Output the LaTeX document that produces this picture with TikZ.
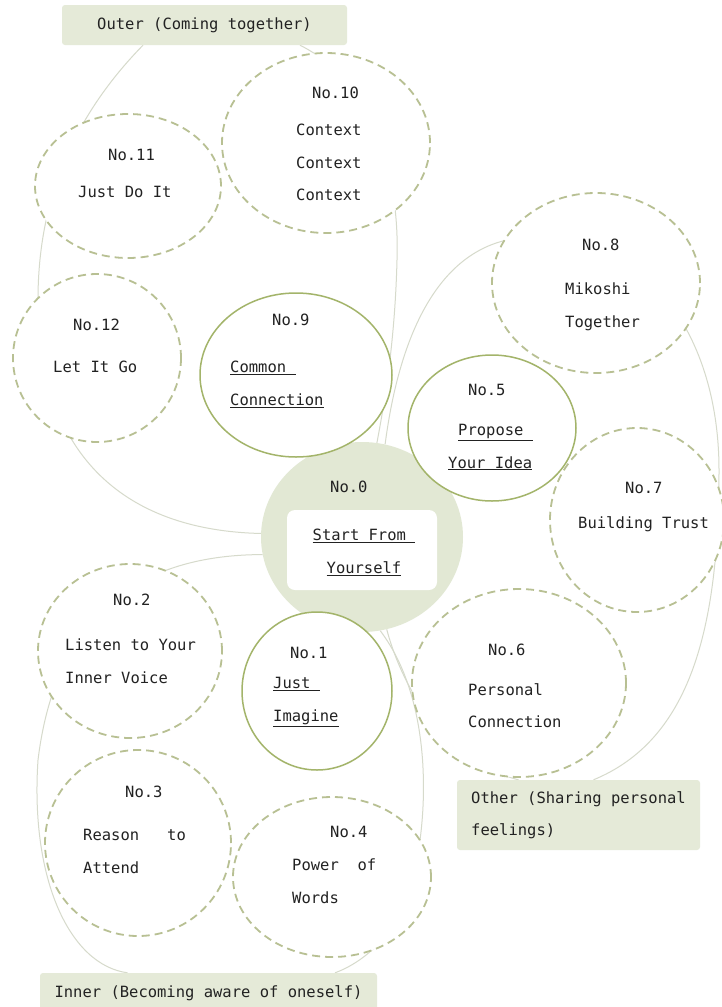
\documentclass[tikz,border=0pt]{standalone}
\usepackage{fontspec}
\setmainfont{DejaVu Sans Mono}
\usetikzlibrary{shapes.geometric,backgrounds}
\definecolor{Ink}{HTML}{222222}
\definecolor{Dash}{HTML}{B8C093}
\definecolor{Leaf}{HTML}{A3B46A}
\definecolor{Sage}{HTML}{E2E8D4}
\definecolor{Tag}{HTML}{E5EAD8}
\definecolor{Link}{HTML}{D6DACB}
\newcommand{\ulx}[1]{\underline{#1}}

\begin{document}
\begin{tikzpicture}[
  x=1pt, y=-1pt,
  every node/.style={text=Ink, font=\fontsize{15.5}{32.5}\selectfont},
  bubble/.style={ellipse, draw=Dash, line width=1.8pt, dash pattern=on 8pt off 5pt,
    fill=white, inner sep=0pt},
  core/.style={bubble, draw=Leaf, line width=1.5pt, solid},
  tag/.style={fill=Tag, rounded corners=3pt, inner sep=0pt},
  num/.style={anchor=north west, inner sep=0pt},
  txt/.style={anchor=north west, inner sep=0pt, align=left},
  link/.style={draw=Link, line width=1pt}
]
  \useasboundingbox (0,0) rectangle (722,1007);

  % group labels
  \node[tag, minimum width=285pt, minimum height=40pt] (outer) at (204.5,25) {Outer (Coming together)};
  \node[tag, minimum width=243pt, minimum height=70pt, align=left] (other) at (578.5,815)
    {Other (Sharing personal\\feelings)};
  \node[tag, minimum width=337pt, minimum height=40pt] (inner) at (208.5,993)
    {Inner (Becoming aware of oneself)};

  % centre
  \node[ellipse, fill=Sage, minimum width=202pt, minimum height=190pt] (start) at (362,537) {};
  \node[fill=white, rounded corners=8pt, minimum width=150pt, minimum height=80pt] (startbox) at (362,550) {};
  \node[num] (n0num) at (330,481) {No.0};
  \node[anchor=north, inner sep=0pt, align=center] (n0txt) at (364,529) {\ulx{Start From\ }\\\ulx{Yourself}};

  % outer ring
  \node[bubble, minimum width=208pt, minimum height=180pt] (n10) at (326,143) {};
  \node[num] (n10num) at (312,87) {No.10};
  \node[txt] (n10txt) at (296,124) {Context\\Context\\Context};

  \node[bubble, minimum width=186pt, minimum height=144pt] (n11) at (128,186) {};
  \node[num] (n11num) at (108,149) {No.11};
  \node[txt] (n11txt) at (78,186) {Just Do It};

  \node[bubble, minimum width=168pt, minimum height=168pt] (n12) at (97,358) {};
  \node[num] (n12num) at (73,319) {No.12};
  \node[txt] (n12txt) at (53,361) {Let It Go};

  \node[core, minimum width=192pt, minimum height=164pt] (n9) at (296,375) {};
  \node[num] (n9num) at (272,314) {No.9};
  \node[txt] (n9txt) at (230,361) {\ulx{Common\ }\\\ulx{Connection}};

  % other ring
  \node[bubble, minimum width=208pt, minimum height=180pt] (n8) at (596,283) {};
  \node[num] (n8num) at (582,239) {No.8};
  \node[txt] (n8txt) at (565,283) {Mikoshi\\Together};

  \node[core, minimum width=168pt, minimum height=146pt] (n5) at (492,428) {};
  \node[num] (n5num) at (468,384) {No.5};
  \node[txt] (n5txt) at (448,424) {\hspace*{10pt}\ulx{Propose\ }\\\ulx{Your Idea}};

  \node[bubble, minimum width=174pt, minimum height=184pt] (n7) at (637,520) {};
  \node[num] (n7num) at (625,482) {No.7};
  \node[txt] (n7txt) at (578,516) {Building Trust};

  \node[bubble, minimum width=214pt, minimum height=188pt] (n6) at (519,683) {};
  \node[num] (n6num) at (488,644) {No.6};
  \node[txt] (n6txt) at (468,683) {Personal\\Connection};

  % inner ring
  \node[bubble, minimum width=184pt, minimum height=174pt] (n2) at (130,651) {};
  \node[num] (n2num) at (113,594) {No.2};
  \node[txt] (n2txt) at (65,639) {Listen to Your\\Inner Voice};

  \node[core, minimum width=150pt, minimum height=158pt] (n1) at (317,691) {};
  \node[num] (n1num) at (290,647) {No.1};
  \node[txt] (n1txt) at (273,677) {\ulx{Just\ }\\\ulx{Imagine}};

  \node[bubble, minimum width=186pt, minimum height=186pt] (n3) at (138,843) {};
  \node[num] (n3num) at (125,786) {No.3};
  \node[txt] (n3txt) at (83,829) {Reason\ \ \ to\\Attend};

  \node[bubble, minimum width=198pt, minimum height=160pt] (n4) at (332,877) {};
  \node[num] (n4num) at (330,826) {No.4};
  \node[txt] (n4txt) at (292,859) {Power\ \ of\\Words};

  % loops behind the bubbles
  \begin{scope}[on background layer]
    \fill[white] (0,0) rectangle (722,1007);
    \draw[link] ([xshift=-61.5pt]outer.south) .. controls (60,130) and (38,220) .. (38,300)
      .. controls (38,440) and (110,530) .. (start.178);
    \draw[link] ([xshift=95.5pt]outer.south) .. controls (370,80) and (400,170) .. (397,260)
      .. controls (395,340) and (385,400) .. (start.81);
    \draw[link] (start.76) .. controls (400,330) and (440,255) .. (507,240)
      .. controls (640,220) and (719,330) .. (719,470)
      .. controls (719,630) and (690,740) .. ([xshift=15pt]other.north);
    \draw[link] (start.-75) .. controls (400,680) and (440,760) .. ([xshift=-60pt]other.north);
    \draw[link] (start.-79) .. controls (425,690) and (428,780) .. (420,840)
      .. controls (415,920) and (370,960) .. ([xshift=126.5pt]inner.north);
    \draw[link] (start.190) .. controls (180,555) and (60,580) .. (38,760)
      .. controls (30,880) and (70,965) .. ([xshift=-81pt]inner.north);
  \end{scope}
\end{tikzpicture}
\end{document}
